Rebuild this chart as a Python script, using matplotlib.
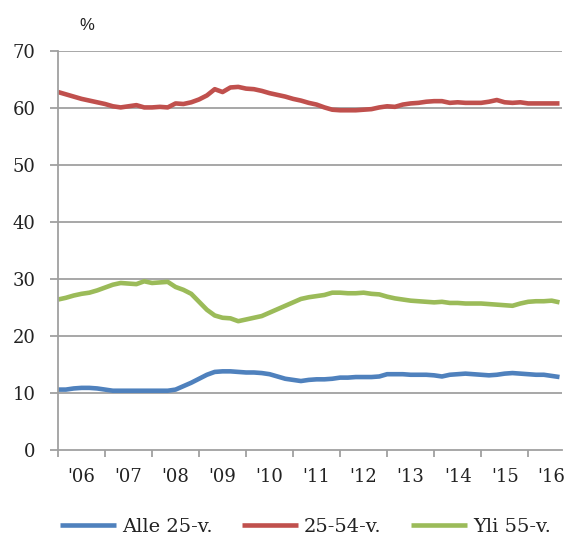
import numpy as np
import pandas as pd
import matplotlib
matplotlib.use("Agg")
import matplotlib.pyplot as plt
from matplotlib.ticker import FixedLocator, NullFormatter, FixedFormatter

# bi-monthly observations, Jan 2006 .. Sep 2016
dates = pd.date_range("2006-01-01", periods=65, freq="2MS")

alle_25 = [10.6, 10.6, 10.8, 10.9, 10.9, 10.8, 10.6, 10.4, 10.4, 10.4,
           10.4, 10.4, 10.4, 10.4, 10.4, 10.6, 11.2, 11.8, 12.5, 13.2,
           13.7, 13.8, 13.8, 13.7, 13.6, 13.6, 13.5, 13.3, 12.9, 12.5,
           12.3, 12.1, 12.3, 12.4, 12.4, 12.5, 12.7, 12.7, 12.8, 12.8,
           12.8, 12.9, 13.3, 13.3, 13.3, 13.2, 13.2, 13.2, 13.1, 12.9,
           13.2, 13.3, 13.4, 13.3, 13.2, 13.1, 13.2, 13.4, 13.5, 13.4,
           13.3, 13.2, 13.2, 13.0, 12.8]

v25_54 = [62.8, 62.4, 62.0, 61.6, 61.3, 61.0, 60.7, 60.3, 60.1, 60.3,
          60.5, 60.1, 60.1, 60.2, 60.1, 60.8, 60.7, 61.0, 61.5, 62.2,
          63.3, 62.8, 63.6, 63.7, 63.4, 63.3, 63.0, 62.6, 62.3, 62.0,
          61.6, 61.3, 60.9, 60.6, 60.1, 59.7, 59.6, 59.6, 59.6, 59.7,
          59.8, 60.1, 60.3, 60.2, 60.6, 60.8, 60.9, 61.1, 61.2, 61.2,
          60.9, 61.0, 60.9, 60.9, 60.9, 61.1, 61.4, 61.0, 60.9, 61.0,
          60.8, 60.8, 60.8, 60.8, 60.8]

yli_55 = [26.4, 26.7, 27.1, 27.4, 27.6, 28.0, 28.5, 29.0, 29.3, 29.2,
          29.1, 29.6, 29.3, 29.4, 29.5, 28.6, 28.1, 27.4, 26.0, 24.6,
          23.6, 23.2, 23.1, 22.6, 22.9, 23.2, 23.5, 24.1, 24.7, 25.3,
          25.9, 26.5, 26.8, 27.0, 27.2, 27.6, 27.6, 27.5, 27.5, 27.6,
          27.4, 27.3, 26.9, 26.6, 26.4, 26.2, 26.1, 26.0, 25.9, 26.0,
          25.8, 25.8, 25.7, 25.7, 25.7, 25.6, 25.5, 25.4, 25.3, 25.7,
          26.0, 26.1, 26.1, 26.2, 25.9]

series_names = ["Alle 25-v.", "25-54-v.", "Yli 55-v."]
series_colors = ["#4F81BD", "#C0504D", "#9BBB59"]
years = list(range(2006, 2017))
year_labels = ["'06", "'07", "'08", "'09", "'10", "'11", "'12", "'13", "'14", "'15", "'16"]
y_ticks = [0, 10, 20, 30, 40, 50, 60, 70]

t = dates.year + (dates.month - 1) / 12.0

SERIF = ["DejaVu Serif"]
FS = 13

fig = plt.figure(figsize=(5.65, 5.39), dpi=100)
ax = fig.add_axes([0.1027, 0.1651, 0.892, 0.7403])

for vals, name, col in zip([alle_25, v25_54, yli_55], series_names, series_colors):
    ax.plot(t, vals, color=col, lw=3.3, label=name, solid_capstyle="butt")

grid_col = "#a0a0a0"
ax.set_ylim(0, 70)
ax.set_xlim(2006, 2016.72)
ax.set_yticks(y_ticks)
for y in y_ticks[1:]:
    ax.axhline(y, color=grid_col, lw=1.3, zorder=0)

for s in ["top", "right"]:
    ax.spines[s].set_visible(False)
for s in ["left", "bottom"]:
    ax.spines[s].set_color(grid_col)
    ax.spines[s].set_linewidth(1.3)

ax.xaxis.set_major_locator(FixedLocator(years))
ax.xaxis.set_major_formatter(NullFormatter())
ax.xaxis.set_minor_locator(FixedLocator([y + 0.5 for y in years]))
ax.xaxis.set_minor_formatter(FixedFormatter(year_labels))
ax.tick_params(axis="x", which="major", length=5, width=1.3, color=grid_col, direction="out")
ax.tick_params(axis="x", which="minor", length=0, pad=13, labelsize=FS, labelcolor="#222222")
ax.tick_params(axis="y", length=6, width=1.3, color=grid_col, pad=10, labelsize=FS, labelcolor="#222222")
for lab in ax.get_xticklabels(minor=True) + ax.get_yticklabels():
    lab.set_family(SERIF)

fig.text(0.153, 0.953, "%", ha="center", va="center", fontsize=12,
         family=["Liberation Sans", "DejaVu Sans"], color="#222222")

leg = fig.legend(loc="center", bbox_to_anchor=(0.54, 0.022), ncol=3, frameon=False,
                 handlelength=2.9, handletextpad=0.3, columnspacing=1.5,
                 prop={"family": SERIF, "size": 14})
for h in leg.get_lines():
    h.set_linewidth(3.3)
for txt in leg.get_texts():
    txt.set_color("#222222")

fig.savefig("out.png", dpi=100, facecolor="white")
